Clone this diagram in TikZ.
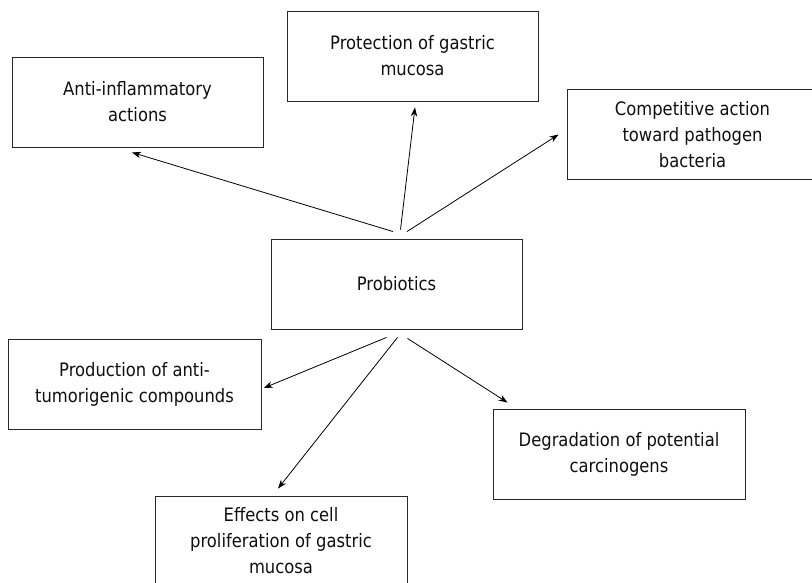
\documentclass[tikz,border=0pt]{standalone}
\usepackage{fontspec}
\setmainfont[FakeStretch=0.885]{DejaVu Sans}
\usetikzlibrary{arrows.meta}
\definecolor{boxline}{RGB}{40,40,40}
\definecolor{txt}{RGB}{15,15,15}
\tikzset{
  fbox/.style={draw=boxline, line width=0.9pt, minimum width=251pt, minimum height=90pt,
    inner sep=0pt, align=center, text=txt,
    font=\fontsize{18.5pt}{26pt}\selectfont},
  conn/.style={draw=black, line width=0.8pt, -{Stealth[length=9pt,width=6.5pt]}}
}
\begin{document}
\begin{tikzpicture}[x=1pt,y=-1pt]
\useasboundingbox (0,0) rectangle (812,583);
\node[fbox] (anti) at (137.5,102) {Anti-inflammatory\\actions};
\node[fbox] (prot) at (412.5,56) {Protection of gastric\\mucosa};
\node[fbox] (comp) at (692.5,134.5) {Competitive action\\toward pathogen\\bacteria};
\node[fbox] (prob) at (396.5,284) {Probiotics};
\node[fbox, minimum width=253pt] (prod) at (134.5,384) {Production of anti-\\tumorigenic compounds};
\node[fbox, minimum width=252pt] (deg) at (619,454) {Degradation of potential\\carcinogens};
\node[fbox, minimum width=252pt] (eff) at (281,541) {Effects on cell\\proliferation of gastric\\mucosa};

\draw[conn] ([xshift=-3.5pt,yshift=7pt]prob.north) -- ([xshift=-5.5pt,yshift=-5pt]anti.south);
\draw[conn] ([xshift=4pt,yshift=9pt]prob.north) -- ([xshift=2.5pt,yshift=-6pt]prot.south);
\draw[conn] ([xshift=10.5pt,yshift=7pt]prob.north) -- ([xshift=-8pt,yshift=0pt]comp.west);
\draw[conn] ([xshift=-10pt,yshift=-8pt]prob.south) -- ([xshift=2.3pt,yshift=-4pt]prod.east);
\draw[conn] ([xshift=1pt,yshift=-8pt]prob.south) -- ([xshift=-3pt,yshift=7pt]eff.north);
\draw[conn] ([xshift=11pt,yshift=-9pt]prob.south) -- ([xshift=15pt,yshift=6pt]deg.north west);
\end{tikzpicture}
\end{document}
